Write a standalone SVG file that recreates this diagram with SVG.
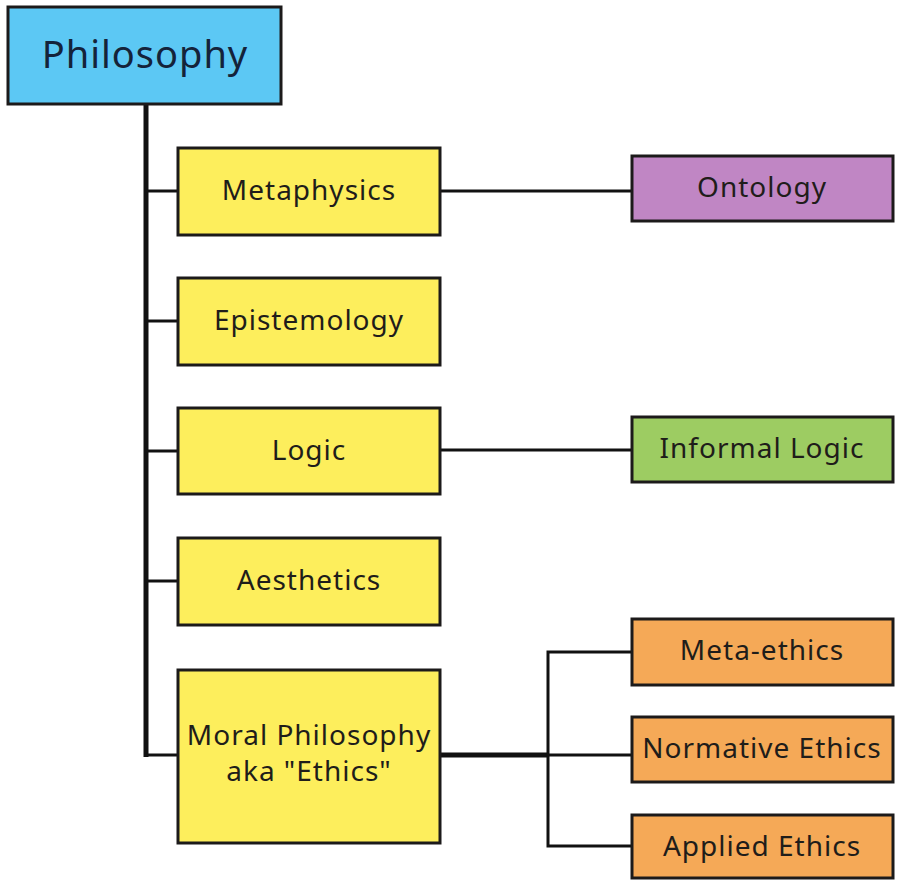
<svg xmlns="http://www.w3.org/2000/svg" width="897" height="881" viewBox="0 0 897 881">
  <style>
    .box { stroke: #1c1a1a; stroke-width: 3; }
    .root { fill: #5cc8f4; }
    .main { fill: #fdee5c; }
    .onto { fill: #c086c4; }
    .inf { fill: #9dcc62; }
    .eth { fill: #f5a957; }
    text { font-family: "Noto Sans", "DejaVu Sans", sans-serif; font-size: 28px; letter-spacing: 1px; fill: #1f1d1a; text-anchor: middle; }
    .big { font-size: 38px; fill: #14233a; }
    .link { stroke: #111; stroke-width: 3; fill: none; }
    .trunk { stroke: #111; stroke-width: 5; fill: none; }
  </style>
  <rect width="897" height="881" fill="#ffffff"/>

  <g id="connectors">
    <line class="trunk" x1="146" y1="104" x2="146" y2="757"/>
    <line class="link" x1="146" y1="191" x2="178" y2="191"/>
    <line class="link" x1="146" y1="321" x2="178" y2="321"/>
    <line class="link" x1="146" y1="451" x2="178" y2="451"/>
    <line class="link" x1="146" y1="581" x2="178" y2="581"/>
    <line class="link" x1="146" y1="755" x2="178" y2="755"/>
    <line class="link" x1="440" y1="191" x2="632" y2="191"/>
    <line class="link" x1="440" y1="450" x2="632" y2="450"/>
    <line class="trunk" x1="440" y1="755" x2="548" y2="755"/>
    <polyline class="link" points="632,652 548,652 548,846 632,846"/>
    <line class="link" x1="548" y1="755" x2="632" y2="755"/>
  </g>

  <g id="philosophy">
    <rect class="box root" x="8" y="7" width="273" height="97"/>
    <text class="big" x="145" y="68">Philosophy</text>
  </g>
  <g id="metaphysics">
    <rect class="box main" x="178" y="148" width="262" height="87"/>
    <text x="309" y="200">Metaphysics</text>
  </g>
  <g id="epistemology">
    <rect class="box main" x="178" y="278" width="262" height="87"/>
    <text x="309" y="330">Epistemology</text>
  </g>
  <g id="logic">
    <rect class="box main" x="178" y="408" width="262" height="86"/>
    <text x="309" y="460">Logic</text>
  </g>
  <g id="aesthetics">
    <rect class="box main" x="178" y="538" width="262" height="87"/>
    <text x="309" y="590">Aesthetics</text>
  </g>
  <g id="moral-philosophy">
    <rect class="box main" x="178" y="670" width="262" height="173"/>
    <text x="309" y="745">Moral Philosophy</text>
    <text x="309" y="781">aka "Ethics"</text>
  </g>
  <g id="ontology">
    <rect class="box onto" x="632" y="156" width="261" height="65"/>
    <text x="762" y="197">Ontology</text>
  </g>
  <g id="informal-logic">
    <rect class="box inf" x="632" y="417" width="261" height="65"/>
    <text x="762" y="458">Informal Logic</text>
  </g>
  <g id="meta-ethics">
    <rect class="box eth" x="632" y="619" width="261" height="66"/>
    <text x="762" y="660">Meta-ethics</text>
  </g>
  <g id="normative-ethics">
    <rect class="box eth" x="632" y="717" width="261" height="65"/>
    <text x="762" y="758">Normative Ethics</text>
  </g>
  <g id="applied-ethics">
    <rect class="box eth" x="632" y="815" width="261" height="63"/>
    <text x="762" y="856">Applied Ethics</text>
  </g>
</svg>
